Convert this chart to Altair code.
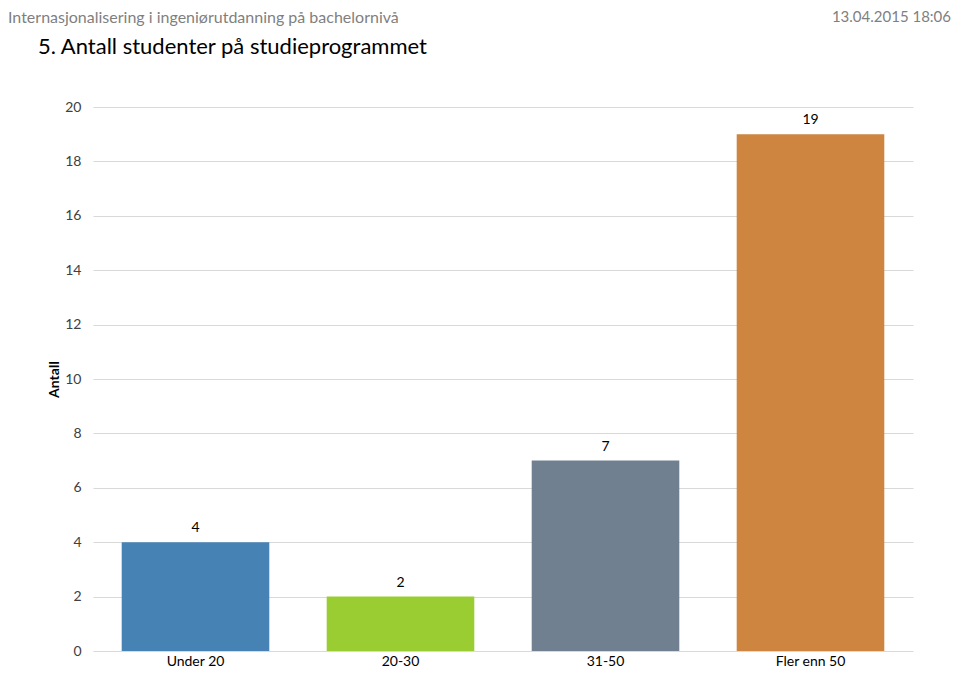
import altair as alt
import pandas as pd

categories = ["Under 20", "20-30", "31-50", "Fler enn 50"]
values = [4, 2, 7, 19]
colors = ["#4682b4", "#9acd32", "#708090", "#cd853f"]
y_ticks = [0, 2, 4, 6, 8, 10, 12, 14, 16, 18, 20]

header_text = "Internasjonalisering i ingeniørutdanning på bachelornivå"
date_text = "13.04.2015 18:06"
title_text = "5. Antall studenter på studieprogrammet"
y_title = "Antall"

FONT = "Lato, Noto Sans, sans-serif"

df = pd.DataFrame({"kategori": categories, "antall": values})

x_enc = alt.X(
    "kategori:N",
    sort=categories,
    scale=alt.Scale(paddingInner=0.28, paddingOuter=0.14),
    axis=alt.Axis(
        title=None, labelAngle=0, ticks=False, domain=False, grid=False,
        labelFontSize=14, labelColor="#000000", labelFont=FONT, labelPadding=3,
        labelBaseline="top",
    ),
)
y_enc = alt.Y(
    "antall:Q",
    scale=alt.Scale(domain=[0, 20], nice=False),
    axis=alt.Axis(
        values=y_ticks, title=y_title, titleFont=FONT, titleFontSize=14,
        titleFontWeight="bold", titleColor="#000000", titleAngle=270,
        titleX=-39, titleY=272, titleAlign="center", titleBaseline="middle",
        ticks=False, domain=False, grid=True, gridColor="#d9d9d9", gridWidth=1,
        labelFont=FONT, labelFontSize=14, labelColor="#404040", labelPadding=12,
    ),
)

bars = alt.Chart(df).mark_bar().encode(
    x=x_enc,
    y=y_enc,
    color=alt.Color("kategori:N", sort=categories,
                    scale=alt.Scale(domain=categories, range=colors), legend=None),
)

labels = alt.Chart(df).mark_text(
    dy=-14, font=FONT, fontSize=14, color="#000000", baseline="middle"
).encode(
    x=alt.X("kategori:N", sort=categories),
    y="antall:Q",
    text="antall:Q",
)

header = alt.Chart(pd.DataFrame({"t": [header_text]})).mark_text(
    font=FONT, fontSize=16, color="#7f7f7f", align="left", baseline="top"
).encode(text="t:N", x=alt.value(-85), y=alt.value(-97))

date = alt.Chart(pd.DataFrame({"t": [date_text]})).mark_text(
    font=FONT, fontSize=15, color="#7f7f7f", align="right", baseline="top"
).encode(text="t:N", x=alt.value(858), y=alt.value(-97))

title = alt.Chart(pd.DataFrame({"t": [title_text]})).mark_text(
    font=FONT, fontSize=22, color="#000000", align="left", baseline="middle"
).encode(text="t:N", x=alt.value(-55), y=alt.value(-60))

chart = alt.layer(bars, labels, header, date, title).properties(
    width=820, height=544,
    background="#ffffff",
    autosize=alt.AutoSizeParams(type="none"),
    padding={"left": 85, "top": 99, "right": 39, "bottom": 17},
).configure_view(strokeWidth=0, stroke=None)

chart.save("out.html", embed_options={"renderer": "svg", "actions": False})
